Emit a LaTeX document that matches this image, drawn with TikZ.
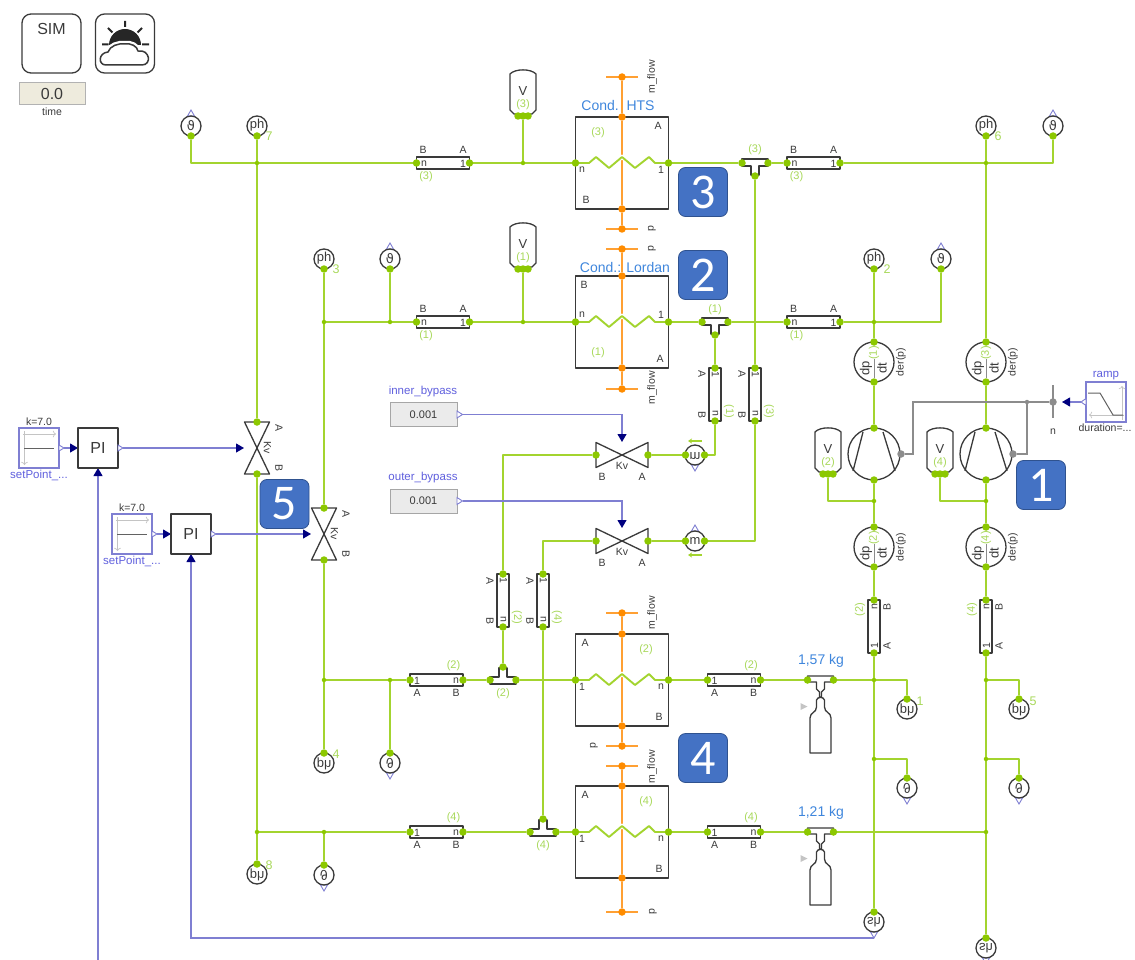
\documentclass[tikz,border=0pt]{standalone}
\usepackage{fontspec}
\setmainfont{Liberation Sans}
\newfontfamily\badgefont{Carlito}
\newfontfamily\symfont{DejaVu Sans}
\usetikzlibrary{arrows.meta, backgrounds}
\definecolor{flowgreen}{HTML}{A3D42F}
\definecolor{portgreen}{HTML}{8CC800}
\definecolor{tagsgreen}{HTML}{A8D85A}
\definecolor{coolorange}{HTML}{FFA033}
\definecolor{portorange}{HTML}{FF8C00}
\definecolor{symdark}{HTML}{3A3A3A}
\definecolor{shaftgrey}{HTML}{8C8C8C}
\definecolor{axisgrey}{HTML}{C4C4C4}
\definecolor{signalblue}{HTML}{7F7FD2}
\definecolor{tipnavy}{HTML}{00007F}
\definecolor{titleblue}{HTML}{3F86DC}
\definecolor{badgeblue}{HTML}{4472C4}
\definecolor{badgeedge}{HTML}{2F528F}
\definecolor{timebeige}{HTML}{EEEBDD}
\def\txtrot{0}
\tikzset{
  txtrot/.code={\def\txtrot{#1}},
  pics/pipeup/.style={code={
    \draw[symbol, fill=white] (-26.5,-6) rectangle (26.5,6);
    \node[port] (-l) at (-26.5,0) {};
    \node[port] (-r) at (26.5,0) {};
    \node[pin, rotate=\txtrot] (-ul) at (-20,-13) {B};
    \node[pin, rotate=\txtrot] (-ur) at (20,-13) {A};
    \node[pin, rotate=\txtrot] (-il) at (-19,0.5) {n};
    \node[pin, rotate=\txtrot] (-ir) at (20,0.5) {1};
    \node[tag, rotate=\txtrot] (-tag) at (-17,14) {#1};
  }},
  pics/pipedown/.style={code={
    \draw[symbol, fill=white] (-26.5,-6) rectangle (26.5,6);
    \node[port] (-l) at (-26.5,0) {};
    \node[port] (-r) at (26.5,0) {};
    \node[pin, rotate=\txtrot] (-ul) at (-19.5,13) {A};
    \node[pin, rotate=\txtrot] (-ur) at (19.5,13) {B};
    \node[pin, rotate=\txtrot] (-il) at (-19.5,0.5) {1};
    \node[pin, rotate=\txtrot] (-ir) at (19.5,0.5) {n};
    \node[tag, rotate=\txtrot] (-tag) at (17,-14) {#1};
  }},
  pics/condenser/.style n args={8}{code={
    \draw[symbol] (-46.5,-46) rectangle (46.5,46);
    \draw[white, line width=4pt] (-26,-6) -- (-13,5) -- (0,-6) -- (13,5) -- (27,-6);
    \draw[flow] (-46.5,0) -- (-33,0) -- (-26,-6) -- (-13,5) -- (0,-6) -- (13,5) -- (27,-6) -- (33,0) -- (46.5,0);
    \node[port] (-l) at (-46.5,0) {};
    \node[port] (-r) at (46.5,0) {};
    \node[oport] (-t) at (0,-46) {};
    \node[oport] (-b) at (0,46) {};
    \node[pin] (-il) at (-40,#3) {#1};
    \node[pin] (-ir) at (39,#3) {#2};
    \node[pin] (-ut) at (#5,-37) {#4};
    \node[pin] (-ub) at ({-1*(#5)},37) {#6};
    \node[tag] (-tag) at (#8) {#7};
  }},
  pics/tap/.style={code={
    \draw[cool] (-16,0) -- (16,0);
    \node[oport] (-p) at (0,0) {};
  }},
  pics/sensor/.style={code={
    \draw[symbol, fill=white] (0,0) circle (10pt);
    \node[sensortext, transform shape] (-t) at (0,-0.5) {#1};
    \node[port] (-p) at (0,10) {};
  }},
  pics/sensorout/.style={code={
    \draw[sigopen] (0,-16) -- (3.5,-10) -- (-3.5,-10) -- cycle;
    \draw[symbol, fill=white] (0,0) circle (10pt);
    \node[sensortext, transform shape] (-t) at (0,-0.5) {#1};
    \node[port] (-p) at (0,10) {};
    \coordinate (-o) at (0,-16);
  }},
  pics/flowsensor/.style={code={
    \draw[sigopen] (0,-16) -- (3.5,-10) -- (-3.5,-10) -- cycle;
    \draw[symbol, fill=white] (0,0) circle (10pt);
    \node[sensortext, transform shape] (-t) at (0,-0.5) {m};
    \node[port] (-l) at (-9.5,0) {};
    \node[port] (-r) at (9.5,0) {};
    \draw[flow, -{Stealth[length=4pt,width=5pt]}] (7,14) -- (-7,14);
  }},
  pics/vessel/.style={code={
    \draw[symbol, fill=white] (-13,-18) .. controls (-8,-23.5) and (8,-23.5) .. (13,-18) -- (13,18) -- (9,22) -- (-9,22) -- (-13,18) -- cycle;
    \node[port] (-p) at (0,24) {};
    \node[port] (-pl) at (-5,24) {};
    \node[port] (-pr) at (5,24) {};
    \node[sensortext] (-t) at (0,-1) {V};
    \node[tag] (-tag) at (0,12.5) {#1};
  }},
  pics/dpdt/.style={code={
    \draw[symbol, fill=white] (0,0) circle (20pt);
    \draw[shaftgrey, line width=1pt] (0,-3) -- (0,16);
    \node[port] (-t) at (0,-20) {};
    \node[port] (-b) at (0,20) {};
    \node[sensortext, rotate=90] (-n) at (-8,6.5) {dp};
    \node[sensortext, rotate=90] (-d) at (8,6.5) {dt};
    \node[tag, rotate=90] (-tag) at (0,-9) {#1};
    \node[pin, rotate=90] (-der) at (27,0) {der(p)};
  }},
  pics/compressor/.style={code={
    \draw[symbol, fill=white] (0,0) circle (26pt);
    \draw[symbol] (-11,-22) -- (-21,17);
    \draw[symbol] (9,-22) -- (21,17);
    \node[port] (-t) at (0,-26) {};
    \node[port] (-b) at (0,26) {};
    \node[gport] (-e) at (27,0) {};
  }},
  pics/valve/.style={code={
    \draw[symbol, fill=white] (-26,-12.5) -- (26,12.5) -- (26,-12.5) -- (-26,12.5) -- cycle;
    \node[port] (-b) at (-26,0) {};
    \node[port] (-a) at (26,0) {};
    \coordinate (-s) at (0,-13);
    \node[pin, rotate=\txtrot] (-kv) at (0,10.5) {Kv};
    \node[pin, rotate=\txtrot] (-lb) at (-20,22) {B};
    \node[pin, rotate=\txtrot] (-la) at (20,22) {A};
  }},
  pics/tee/.style={code={
    \draw[symbol, fill=white] (-13,-4) -- (13,-4) -- (13,3) -- (4,3) -- (4,12) -- (-4,12) -- (-4,3) -- (-13,3) -- cycle;
    \node[port] (-l) at (-13,0) {};
    \node[port] (-r) at (13,0) {};
    \node[port] (-s) at (0,13) {};
  }},
  pics/tank/.style={code={
    \draw[symbol, fill=white] (-13,-4) -- (13,-4) -- (13,2) -- (4,2) -- (4,9) -- (1,12) -- (1,17) -- (-1,17) -- (-1,12) -- (-4,9) -- (-4,2) -- (-13,2) -- cycle;
    \draw[symbol, fill=white] (-10.5,73) -- (-10.5,38) .. controls (-10.5,32) and (-4,33) .. (-4,27) -- (-4,20) .. controls (-3,16.5) and (3,16.5) .. (4,20) -- (4,27) .. controls (4,33) and (10.5,32) .. (10.5,38) -- (10.5,73) -- cycle;
    \fill[axisgrey] (-20,23) -- (-13,26.5) -- (-20,30) -- cycle;
    \node[port] (-l) at (-13,0) {};
    \node[port] (-r) at (13,0) {};
    \node[title] (-mass) at (0.5,-19) {#1};
  }},
  pics/setpoint/.style={code={
    \draw[signalbox] (-20,-20) rectangle (20,20);
    \draw[axisgrey, line width=0.7pt, ->] (-16,-14) -- (17,-14);
    \draw[axisgrey, line width=0.7pt, ->] (-14.5,-17) -- (-14.5,17);
    \draw[shaftgrey!70!black, line width=1pt] (-15,0) -- (15,0);
    \draw[sigopen] (20,-3) -- (25,0) -- (20,3) -- cycle;
    \coordinate (-o) at (25,0);
    \node[pin] (-k) at (0,-26) {k=7.0};
    \node[sigtext] (-name) at (0,27) {setPoint\_...};
  }},
  pics/piblock/.style={code={
    \draw[symbol, fill=white] (-20,-20) rectangle (20,20);
    \node[bigtext] (-t) at (0,0) {PI};
    \draw[sigopen] (20,-3) -- (25,0) -- (20,3) -- cycle;
    \coordinate (-i) at (-20,0);
    \coordinate (-o) at (25,0);
    \coordinate (-f) at (0,20);
  }},
  pics/constbox/.style={code={
    \node[constant] (-box) at (0,0) {#1};
    \draw[sigopen] (33.5,-3.5) -- (39,0) -- (33.5,3.5) -- cycle;
    \coordinate (-o) at (39,0);
  }}
}
\begin{document}
\begin{tikzpicture}[
  x=1pt, y=-1pt,
  flow/.style={flowgreen, line width=1.9pt, line join=round},
  cool/.style={coolorange, line width=1.8pt},
  shaft/.style={shaftgrey, line width=1.4pt},
  signal/.style={signalblue, line width=1.1pt, -{Triangle[color=tipnavy, length=8pt, width=9pt]}},
  symbol/.style={draw=symdark, line width=1.3pt, line join=round},
  sigopen/.style={draw=signalblue, fill=white, line width=0.9pt},
  signalbox/.style={draw=signalblue, fill=white, line width=1.1pt},
  port/.style={circle, fill=portgreen, inner sep=0pt, minimum size=7.5pt},
  oport/.style={circle, fill=portorange, inner sep=0pt, minimum size=7.5pt},
  gport/.style={circle, fill=shaftgrey, inner sep=0pt, minimum size=7.5pt},
  junction/.style={circle, fill=portgreen, inner sep=0pt, minimum size=4.5pt},
  pin/.style={font=\fontsize{10.5}{12}\selectfont, text=symdark, inner sep=0pt},
  tag/.style={font=\fontsize{11}{12}\selectfont, text=tagsgreen, inner sep=0pt},
  numtag/.style={font=\fontsize{12.5}{14}\selectfont, text=tagsgreen, inner sep=0pt},
  title/.style={font=\fontsize{14}{16}\selectfont, text=titleblue, inner sep=0pt},
  sigtext/.style={font=\fontsize{11.5}{13}\selectfont, text=signalblue!75!blue, inner sep=0pt},
  sensortext/.style={font=\fontsize{13}{14}\selectfont, text=symdark, inner sep=0pt},
  bigtext/.style={font=\fontsize{16}{18}\selectfont, text=symdark, inner sep=0pt},
  constant/.style={fill=black!8, draw=black!35, line width=1pt, minimum width=67pt, minimum height=24pt, inner sep=0pt, font=\fontsize{11}{13}\selectfont, text=symdark},
  iconbox/.style={draw=symdark, line width=1.3pt, rounded corners=9pt, minimum width=59pt, minimum height=59pt, inner sep=0pt},
  badge/.style={fill=badgeblue, draw=badgeedge, line width=0.8pt, rounded corners=7pt, minimum width=49pt, minimum height=49pt, inner sep=0pt, font=\badgefont\fontsize{50}{50}\selectfont, text=white}
]
  \useasboundingbox (0,0) rectangle (1135,960);

  % top left
  \node[iconbox] (simbox) at (51.5,43.5) {};
  \node[font=\fontsize{16}{18}\selectfont, text=symdark, inner sep=0pt] (simtext) at (51.5,29) {SIM};
  \node[iconbox] (weatherbox) at (125,43.5) {};
  \fill[black!85] (109,45) arc[start angle=180, end angle=0, radius=16pt] -- cycle;
  \draw[black!85, line width=2pt] (125,21) -- (125,27) (108,28) -- (112.5,32.5) (142,28) -- (137.5,32.5) (102,44.5) -- (108.5,44.5) (149,44.5) -- (142,44.5);
  \draw[white, line width=6pt, fill=white] (106,65) .. controls (98,65) and (98,53) .. (108,52) .. controls (110,46) and (118,43) .. (125,44) .. controls (131,43) and (137,46) .. (138,51) .. controls (150,49) and (152,65) .. (142,65) -- cycle;
  \draw[symdark, line width=1.5pt] (106,65) .. controls (98,65) and (98,53) .. (108,52) .. controls (110,46) and (118,43) .. (125,44) .. controls (131,43) and (137,46) .. (138,51) .. controls (150,49) and (152,65) .. (142,65) -- cycle;
  \node[fill=timebeige, draw=black!30, line width=1pt, minimum width=66pt, minimum height=22pt, inner sep=0pt, font=\fontsize{16}{18}\selectfont, text=symdark] (timebox) at (52,94) {0.0};
  \node[pin] (timetext) at (52,112) {time};

  % sensors
  \pic (t1) at (191,126) {sensorout={{\symfont ϑ}}};
  \pic (ph7) at (257,126) {sensor={ph}};
  \pic (ph3) at (324,259) {sensor={ph}};
  \pic (t2) at (390,259) {sensorout={{\symfont ϑ}}};
  \pic (ph2) at (874,259) {sensor={ph}};
  \pic (t3) at (941,259) {sensorout={{\symfont ϑ}}};
  \pic (ph6) at (986,126) {sensor={ph}};
  \pic (t4) at (1053,126) {sensorout={{\symfont ϑ}}};
  \pic[yscale=-1] (ph4) at (324,763) {sensor={ph}};
  \pic[yscale=-1] (t5) at (390,763) {sensorout={{\symfont ϑ}}};
  \pic[yscale=-1] (ph8) at (257,874) {sensor={ph}};
  \pic[yscale=-1] (t6) at (324,875) {sensorout={{\symfont ϑ}}};
  \pic[yscale=-1] (ph1) at (907,709) {sensor={ph}};
  \pic[yscale=-1] (t7) at (907,788) {sensorout={{\symfont ϑ}}};
  \pic[yscale=-1] (ph5) at (1019,709) {sensor={ph}};
  \pic[yscale=-1] (t8) at (1019,788) {sensorout={{\symfont ϑ}}};
  \pic[yscale=-1] (sh1) at (874,922) {sensorout={sh}};
  \pic[yscale=-1] (sh2) at (986,948) {sensorout={sh}};
  \node[numtag] (num7) at (269,136) {7};
  \node[numtag] (num3) at (336,269) {3};
  \node[numtag] (num2) at (887,269) {2};
  \node[numtag] (num6) at (998,136) {6};
  \node[numtag] (num4) at (336,754) {4};
  \node[numtag] (num8) at (269,865) {8};
  \node[numtag] (num1) at (920,701) {1};
  \node[numtag] (num5) at (1033,701) {5};

  % pipes
  \pic (pipeA) at (443,163) {pipeup={(3)}};
  \pic (pipeB) at (813.5,163) {pipeup={(3)}};
  \pic (pipeC) at (443,322) {pipeup={(1)}};
  \pic (pipeD) at (813.5,322) {pipeup={(1)}};
  \pic (pipeJ) at (436.5,680) {pipedown={(2)}};
  \pic (pipeL) at (734,680) {pipedown={(2)}};
  \pic (pipeK) at (436.5,832) {pipedown={(4)}};
  \pic (pipeM) at (734,832) {pipedown={(4)}};
  \pic[rotate=90, txtrot=-90] (pipeF) at (715,394.5) {pipeup={(1)}};
  \pic[rotate=90, txtrot=-90] (pipeG) at (755,394.5) {pipeup={(3)}};
  \pic[rotate=90, txtrot=-90] (pipeH) at (503,600.5) {pipeup={(2)}};
  \pic[rotate=90, txtrot=-90] (pipeI) at (543,600.5) {pipeup={(4)}};
  \pic[rotate=90, txtrot=90] (pipeE) at (874,626.5) {pipedown={(2)}};
  \pic[rotate=90, txtrot=90] (pipeN) at (986,626.5) {pipedown={(4)}};

  % condensers
  \pic (hxHts) at (622,163) {condenser={n}{1}{7}{A}{36}{B}{(3)}{-24,-30}};
  \pic (hxLord) at (622,322) {condenser={n}{1}{-7}{B}{-38}{A}{(1)}{-24,31}};
  \pic (hxTwo) at (622,680) {condenser={1}{n}{7}{A}{-37}{B}{(2)}{24,-30}};
  \pic (hxFour) at (622,832) {condenser={1}{n}{7}{A}{-37}{B}{(4)}{24,-30}};
  \node[title] (titleHts) at (618,105) {Cond.\ \ HTS};
  \node[title] (titleLord) at (625,267) {Cond.: Lordan};
  \pic (tapA) at (622,77) {tap};
  \pic (tapB) at (622,229) {tap};
  \pic (tapC) at (622,249) {tap};
  \pic (tapD) at (622,389) {tap};
  \pic (tapE) at (622,613) {tap};
  \pic (tapF) at (622,746) {tap};
  \pic (tapG) at (622,766) {tap};
  \pic (tapH) at (622,912) {tap};
  \node[pin, rotate=90] (flowA) at (652,77) {m\_flow};
  \node[pin, rotate=90] (presB) at (652,229) {p};
  \node[pin, rotate=90] (presC) at (652,249) {p};
  \node[pin, rotate=90] (flowD) at (652,388) {m\_flow};
  \node[pin, rotate=90] (flowE) at (652,613) {m\_flow};
  \node[pin, rotate=90] (presF) at (594,746) {p};
  \node[pin, rotate=90] (flowG) at (652,767) {m\_flow};
  \node[pin, rotate=90] (presH) at (653,912) {p};

  % vessels, tees, tanks
  \pic (vol3) at (523,92) {vessel={(3)}};
  \pic (vol1) at (523,245) {vessel={(1)}};
  \pic (vol2) at (828,450) {vessel={(2)}};
  \pic (vol4) at (940,450) {vessel={(4)}};
  \pic (tee3) at (755,163) {tee};
  \pic (tee1) at (715,322) {tee};
  \pic[yscale=-1] (tee2) at (503,680) {tee};
  \pic[yscale=-1] (tee4) at (543,832) {tee};
  \node[tag] (tagTee3) at (755,150) {(3)};
  \node[tag] (tagTee1) at (715,310) {(1)};
  \node[tag] (tagTee2) at (503,694) {(2)};
  \node[tag] (tagTee4) at (543,846) {(4)};
  \pic (tank1) at (820.5,680) {tank={1,57 kg}};
  \pic (tank2) at (820.5,832) {tank={1,21 kg}};

  % machines
  \pic (dp1) at (874,362) {dpdt={(1)}};
  \pic (dp3) at (986,362) {dpdt={(3)}};
  \pic (dp2) at (874,547) {dpdt={(2)}};
  \pic (dp4) at (986,547) {dpdt={(4)}};
  \pic (comp1) at (874,454) {compressor};
  \pic (comp2) at (986,454) {compressor};

  % valves and controls
  \pic[rotate=90, txtrot=-90] (valve1) at (257,448) {valve};
  \pic[rotate=90, txtrot=-90] (valve2) at (324,534) {valve};
  \pic (vInner) at (622,455) {valve};
  \pic (vOuter) at (622,541) {valve};
  \pic[yscale=-1] (fs1) at (695,455) {flowsensor};
  \pic (fs2) at (695,541) {flowsensor};
  \pic (set1) at (39,448) {setpoint};
  \pic (set2) at (132,534) {setpoint};
  \pic (pi1) at (98,448) {piblock};
  \pic (pi2) at (191,534) {piblock};
  \pic (inner) at (423.5,414.5) {constbox={0.001}};
  \pic (outer) at (423.5,501) {constbox={0.001}};
  \node[sigtext] (innerName) at (423,392) {inner\_bypass};
  \node[sigtext] (outerName) at (423,478) {outer\_bypass};

  % ramp
  \draw[signalbox] (1086,382) rectangle (1126,422);
  \draw[axisgrey, line width=0.7pt, ->] (1122,420) -- (1122,386);
  \draw[axisgrey, line width=0.7pt, ->] (1124,415) -- (1089,415);
  \draw[shaftgrey!70!black, line width=1pt] (1088,393) -- (1100,393) -- (1113,415) -- (1123,415);
  \draw[sigopen] (1086,398.5) -- (1081,402) -- (1086,405.5) -- cycle;
  \coordinate (rampout) at (1081,402);
  \coordinate (shaftin) at (1062,402);
  \node[sigtext] (rampName) at (1106,376) {ramp};
  \node[pin] (rampText) at (1105,428) {duration=...};
  \draw[shaft] (1053,385) -- (1053,418);
  \node[gport] (shaftdot) at (1053,402) {};
  \node[pin] (shaftName) at (1053,432) {n};
  \node[circle, fill=shaftgrey, inner sep=0pt, minimum size=4.5pt] (jshaft) at (1027,402) {};

  % junctions
  \node[junction] (j7) at (257,163) {};
  \node[junction] (jv3) at (523,163) {};
  \node[junction] (j6) at (986,163) {};
  \node[junction] (j3) at (324,322) {};
  \node[junction] (jt2) at (390,322) {};
  \node[junction] (jv1) at (523,322) {};
  \node[junction] (j2) at (874,322) {};
  \node[junction] (jc1) at (874,501) {};
  \node[junction] (jc2) at (986,501) {};
  \node[junction] (j4) at (324,680) {};
  \node[junction] (jt5) at (390,680) {};
  \node[junction] (j1a) at (874,680) {};
  \node[junction] (j1b) at (874,759) {};
  \node[junction] (j5a) at (986,680) {};
  \node[junction] (j5b) at (986,759) {};
  \node[junction] (j5c) at (986,832) {};
  \node[junction] (j8) at (257,832) {};
  \node[junction] (jt6) at (324,832) {};

  % badges
  \node[badge] (badge3) at (703,192) {3};
  \node[badge] (badge2) at (703,275) {2};
  \node[badge] (badge1) at (1041,485) {1};
  \node[badge] (badge5) at (284.5,504) {5};
  \node[badge] (badge4) at (703,758) {4};

  \begin{scope}[on background layer]
    \coordinate (fbbottom) at (98,960);
    \draw[flow] (t1-p) |- (pipeA-l);
    \draw[flow] (pipeA-r) -- (hxHts-l);
    \draw[flow] (vol3-p) -- (jv3);
    \draw[flow] (hxHts-r) -- (tee3-l);
    \draw[flow] (tee3-r) -- (pipeB-l);
    \draw[flow] (pipeB-r) -| (t4-p);
    \draw[flow] (ph6-p) -- (dp3-t);
    \draw[flow] (ph7-p) -- (valve1-a);
    \draw[flow] (valve1-b) -- (ph8-p);
    \draw[flow] (ph3-p) -- (valve2-a);
    \draw[flow] (valve2-b) -- (ph4-p);
    \draw[flow] (j3) -- (pipeC-l);
    \draw[flow] (t2-p) -- (jt2);
    \draw[flow] (pipeC-r) -- (hxLord-l);
    \draw[flow] (vol1-p) -- (jv1);
    \draw[flow] (hxLord-r) -- (tee1-l);
    \draw[flow] (tee1-r) -- (pipeD-l);
    \draw[flow] (pipeD-r) -| (t3-p);
    \draw[flow] (ph2-p) -- (dp1-t);
    \draw[flow] (dp1-b) -- (comp1-t);
    \draw[flow] (comp1-b) -- (dp2-t);
    \draw[flow] (vol2-p) |- (jc1);
    \draw[flow] (dp2-b) -- (pipeE-r);
    \draw[flow] (pipeE-l) -- (sh1-p);
    \draw[flow] (dp3-b) -- (comp2-t);
    \draw[flow] (comp2-b) -- (dp4-t);
    \draw[flow] (vol4-p) |- (jc2);
    \draw[flow] (dp4-b) -- (pipeN-r);
    \draw[flow] (pipeN-l) -- (sh2-p);
    \draw[flow] (tee1-s) -- (pipeF-r);
    \draw[flow] (pipeF-l) |- (fs1-r);
    \draw[flow] (fs1-l) -- (vInner-a);
    \draw[flow] (vInner-b) -| (pipeH-r);
    \draw[flow] (pipeH-l) -- (tee2-s);
    \draw[flow] (tee3-s) -- (pipeG-r);
    \draw[flow] (pipeG-l) |- (fs2-r);
    \draw[flow] (fs2-l) -- (vOuter-a);
    \draw[flow] (vOuter-b) -| (pipeI-r);
    \draw[flow] (pipeI-l) -- (tee4-s);
    \draw[flow] (j4) -- (pipeJ-l);
    \draw[flow] (t5-p) -- (jt5);
    \draw[flow] (pipeJ-r) -- (tee2-l);
    \draw[flow] (tee2-r) -- (hxTwo-l);
    \draw[flow] (hxTwo-r) -- (pipeL-l);
    \draw[flow] (pipeL-r) -- (tank1-l);
    \draw[flow] (tank1-r) -- (j1a);
    \draw[flow] (j1a) -| (ph1-p);
    \draw[flow] (j1b) -| (t7-p);
    \draw[flow] (j5a) -| (ph5-p);
    \draw[flow] (j5b) -| (t8-p);
    \draw[flow] (j8) -- (pipeK-l);
    \draw[flow] (t6-p) -- (jt6);
    \draw[flow] (pipeK-r) -- (tee4-l);
    \draw[flow] (tee4-r) -- (hxFour-l);
    \draw[flow] (hxFour-r) -- (pipeM-l);
    \draw[flow] (pipeM-r) -- (tank2-l);
    \draw[flow] (tank2-r) -- (j5c);

    \draw[cool] (tapA-p) -- (hxHts-t);
    \draw[cool] (hxHts-t) -- (hxHts-b);
    \draw[cool] (hxHts-b) -- (tapB-p);
    \draw[cool] (tapC-p) -- (hxLord-t);
    \draw[cool] (hxLord-t) -- (hxLord-b);
    \draw[cool] (hxLord-b) -- (tapD-p);
    \draw[cool] (tapE-p) -- (hxTwo-t);
    \draw[cool] (hxTwo-t) -- (hxTwo-b);
    \draw[cool] (hxTwo-b) -- (tapF-p);
    \draw[cool] (tapG-p) -- (hxFour-t);
    \draw[cool] (hxFour-t) -- (hxFour-b);
    \draw[cool] (hxFour-b) -- (tapH-p);

    \draw[shaft] (comp1-e) -- ++(12,0) |- (shaftdot);
    \draw[shaft] (comp2-e) -| (jshaft);

    \draw[signal] (set1-o) -- (pi1-i);
    \draw[signal] (pi1-o) -- (valve1-s);
    \draw[signal] (fbbottom) -- (pi1-f);
    \draw[signal] (set2-o) -- (pi2-i);
    \draw[signal] (pi2-o) -- (valve2-s);
    \draw[signal] (sh1-o) -| (pi2-f);
    \draw[signal] (inner-o) -| (vInner-s);
    \draw[signal] (outer-o) -| (vOuter-s);
    \draw[signal] (rampout) -- (shaftin);
  \end{scope}
\end{tikzpicture}
\end{document}
